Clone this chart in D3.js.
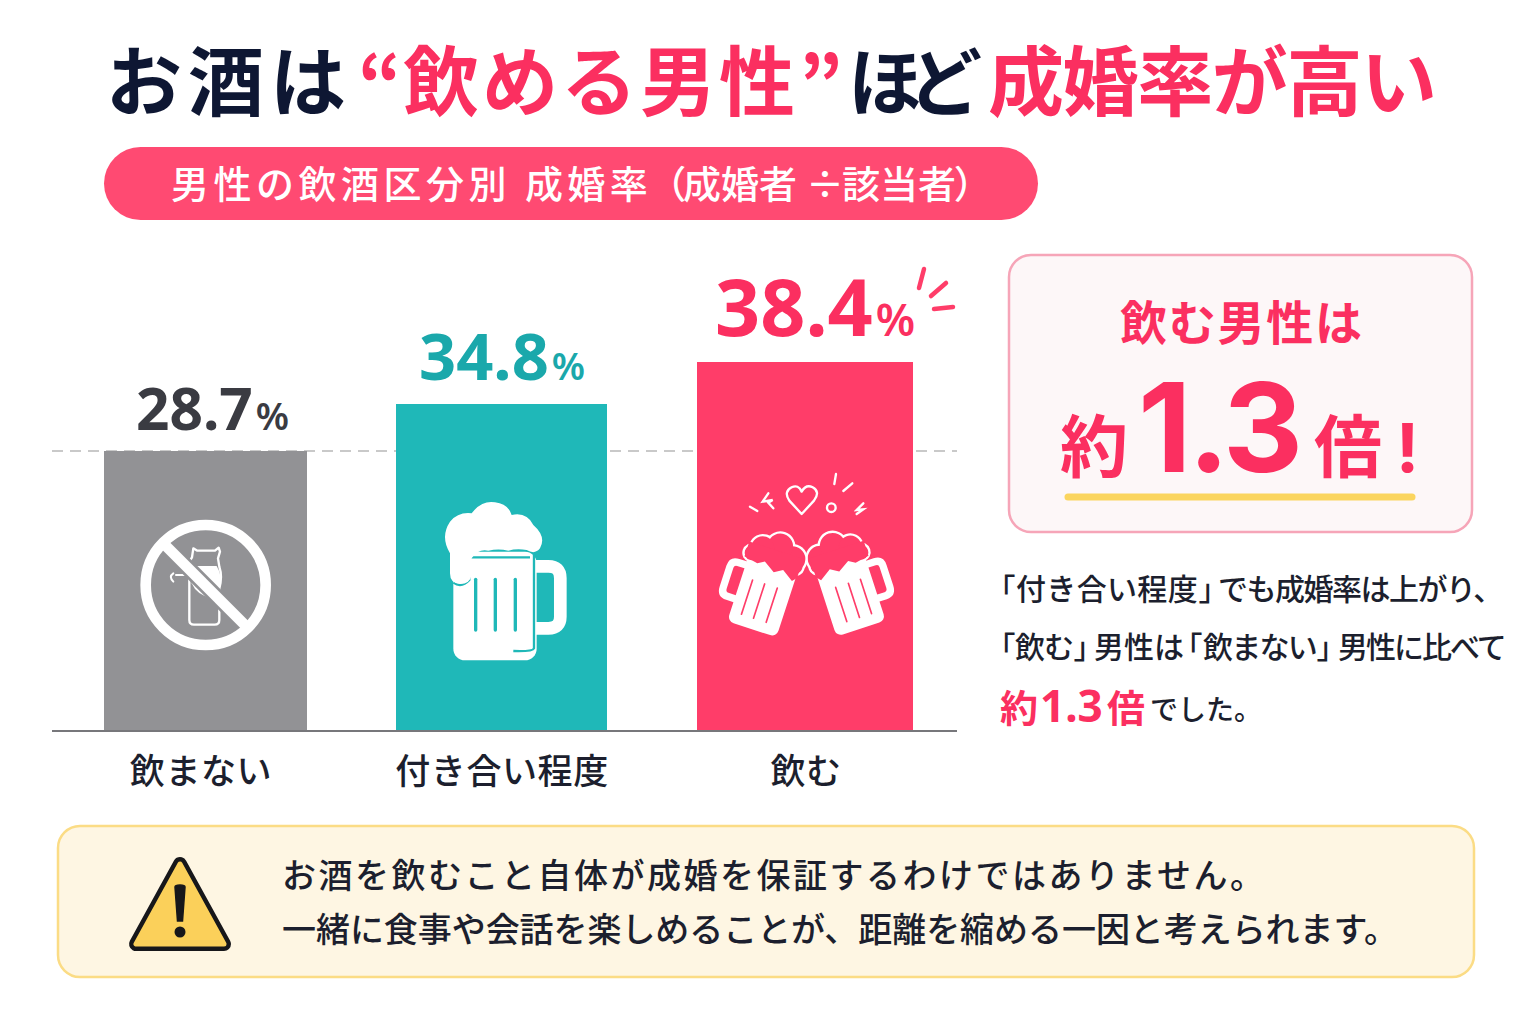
<!DOCTYPE html>
<html lang="ja"><head><meta charset="utf-8">
<script src="https://cdn.jsdelivr.net/npm/d3@7/dist/d3.min.js"></script>
<style>html,body{margin:0;padding:0;background:#fff}svg{display:block}.p{font-feature-settings:"palt"}</style></head>
<body><svg id="c" width="1536" height="1024"></svg>
<script>
const categories = ["飲まない","付き合い程度","飲む"];
const rates = [28.7,34.8,38.4];
const unit = "%";

const NAVY="#0e1733",PINK="#ff3d69",PINKT="#fb2f60",TEAL="#1fb8b8",TEALT="#1aa8ab",GRAY="#929295",DARK="#3a3b42",INK="#1c1f2e";
const JP="'Noto Sans CJK JP','Noto Sans',sans-serif", NUM="'Noto Sans','Noto Sans CJK JP',sans-serif";
const svg=d3.select("#c");
svg.append("rect").attr("width",1536).attr("height",1024).attr("fill","#fff");

function T(str,x,y,size,fill,weight,len,family,anchor){
  const t=svg.append("text").attr("x",x).attr("y",y).attr("font-size",size).attr("fill",fill)
    .attr("font-weight",weight||400).attr("font-family",family||JP).text(str);
  if(len){t.attr("textLength",len).attr("lengthAdjust","spacing");}
  if(anchor)t.attr("text-anchor",anchor);
  return t;
}
// one text line made of runs: [string, x, width of the run]; a run without a width uses proportional glyphs
function R(y,size,fill,weight,runs){
  const t=svg.append("text").attr("y",y).attr("font-size",size).attr("fill",fill)
    .attr("font-weight",weight).attr("font-family",JP);
  runs.forEach(([s,x,len])=>{
    const sp=t.append("tspan").attr("x",x).text(s);
    if(len)sp.attr("letter-spacing",(len-[...s].length*size)/[...s].length);
    else sp.attr("class","p");
  });
}
// title
T("お酒は",106,110,76,NAVY,700,240);
T("“",358,112,76,PINKT,700);
T("飲める男性",403,110,76,PINKT,700,392);
T("”",799,112,76,PINKT,700);
T("ほど",848,110,74,NAVY,700,134);
T("成婚率が高い",988,110,76,PINKT,700,449);

// pill
svg.append("rect").attr("x",104).attr("y",147).attr("width",934).attr("height",73).attr("rx",36.5).attr("fill","#ff4a72");
R(198,38,"#fff",500,[["男性の飲酒区分別",171,340],["成婚率",525,127],["（",666],["成婚者",683,114],["÷",806],["該当者",842,114],["）",955]]);

// chart scales
const y=d3.scaleLinear().domain([0,rates[0],rates[1],rates[2]]).range([731,451,404,362]);
const xL=d3.scaleOrdinal().domain(categories).range([104,396,697]);
const xW=d3.scaleOrdinal().domain(categories).range([203,211,216]);
const col=d3.scaleOrdinal().domain(categories).range([GRAY,TEAL,PINK]);
const txtCol=d3.scaleOrdinal().domain(categories).range([DARK,TEALT,PINKT]);
const numSize=d3.scaleOrdinal().domain(categories).range([58.5,65,79]);
const pctSize=d3.scaleOrdinal().domain(categories).range([38,38,45]);
const numX=d3.scaleOrdinal().domain(categories).range([136,419,715]);
const labY=d3.scaleOrdinal().domain(categories).range([430,380,336]);
const catX=d3.scaleOrdinal().domain(categories).range([201,502,806]);
const rows=categories.map((c,i)=>({c,v:rates[i]}));

svg.append("line").attr("x1",52).attr("x2",957).attr("y1",y(rates[0])).attr("y2",y(rates[0]))
  .attr("stroke","#c9c9c9").attr("stroke-width",2).attr("stroke-dasharray","11 7");
svg.selectAll("rect.bar").data(rows).join("rect").attr("class","bar")
  .attr("x",d=>xL(d.c)).attr("width",d=>xW(d.c)).attr("y",d=>y(d.v)).attr("height",d=>y(0)-y(d.v)).attr("fill",d=>col(d.c));
svg.append("line").attr("x1",52).attr("x2",957).attr("y1",y(0)).attr("y2",y(0)).attr("stroke","#77777b").attr("stroke-width",2);

const lab=svg.selectAll("text.val").data(rows).join("text").attr("class","val")
  .attr("x",d=>numX(d.c)).attr("y",d=>labY(d.c)).attr("fill",d=>txtCol(d.c))
  .attr("font-family",NUM).attr("font-weight",700);
lab.append("tspan").attr("font-size",d=>numSize(d.c)).text(d=>d.v.toFixed(1));
lab.append("tspan").attr("font-size",d=>pctSize(d.c)).attr("font-weight",600).attr("dx",3).text(unit);

svg.selectAll("text.cat").data(rows).join("text").attr("class","cat")
  .attr("x",d=>catX(d.c)).attr("y",784).attr("text-anchor","middle").attr("fill",INK)
  .attr("font-family",JP).attr("font-weight",500).attr("font-size",35).attr("letter-spacing",.6).text(d=>d.c);

// sparks
svg.append("g").attr("stroke",PINK).attr("stroke-width",4.5).attr("stroke-linecap","round")
  .selectAll("path").data(["M924,269L919,288","M946,283L931,296","M934,309L953,307"]).join("path").attr("d",d=>d);

// no-drink icon
const g1=svg.append("g").attr("transform","translate(100,480) scale(.3333)").attr("fill","none").attr("stroke","#fff");
g1.append("path").attr("stroke-width",7).attr("stroke-linejoin","round")
  .attr("d","M280,205L292,212H345L356,203L360,215L354,235L358,260Q368,290 358,325V420Q358,434 344,434H282Q268,434 268,420V245L276,232Z");
g1.append("path").attr("stroke-width",6).attr("stroke-linecap","round").attr("d","M258,285H228M220,280Q205,290 220,305");
g1.append("path").attr("fill","#fff").attr("stroke","none").attr("d","M275,258H350Q370,290 358,325L335,355Q290,345 275,310Z");
g1.append("line").attr("x1",195).attr("y1",195).attr("x2",440).attr("y2",440).attr("stroke",GRAY).attr("stroke-width",48);
g1.append("line").attr("x1",195).attr("y1",195).attr("x2",440).attr("y2",440).attr("stroke-width",32);
g1.append("circle").attr("cx",317).attr("cy",315).attr("r",180).attr("stroke-width",32);

// beer icon
const g2=svg.append("g").attr("transform","translate(420,480) scale(.3333)");
g2.append("path").attr("fill","none").attr("stroke","#fff").attr("stroke-width",38)
  .attr("d","M340,259H385Q421,259 421,295V410Q421,445 385,445H340");
g2.append("rect").attr("x",100).attr("y",215).attr("width",250).attr("height",326).attr("rx",35).attr("fill","#fff");
g2.append("g").attr("stroke",TEAL).attr("stroke-width",10).attr("stroke-linecap","round").selectAll("line")
  .data([167,226,286]).join("line").attr("x1",d=>d).attr("x2",d=>d).attr("y1",298).attr("y2",450);
g2.append("path").attr("fill","none").attr("stroke",TEAL).attr("stroke-width",7)
  .attr("d","M100,308Q125,325 148,300V232H330M342,222V505Q338,515 280,513");
g2.append("path").attr("fill","#fff")
  .attr("d","M90,220Q60,170 90,125Q115,95 155,100Q185,60 225,67Q265,72 275,105Q320,95 340,135Q380,170 360,205Q345,225 320,210Q290,205 265,212Q235,205 205,212Q175,205 155,235V285Q150,312 120,312Q90,310 90,280Z");

// cheers icon
function mug(sel){
  sel.append("path").attr("fill","none").attr("stroke","#fff").attr("stroke-width",22)
    .attr("d","M72,-65H100Q120,-65 120,-45V20Q120,42 100,42H72");
  sel.append("rect").attr("x",-78).attr("y",-105).attr("width",155).attr("height",218).attr("rx",20).attr("fill","#fff");
  sel.append("g").attr("stroke",PINK).attr("stroke-width",5).attr("stroke-linecap","round").selectAll("line")
    .data([-35,5,43]).join("line").attr("x1",d=>d).attr("x2",d=>d).attr("y1",-28).attr("y2",80);
  const fo=[[-52,-125,38],[-5,-150,38],[44,-130,34],[70,-105,22],[-68,-105,20]];
  sel.append("g").attr("fill","#fff").selectAll("circle").data(fo).join("circle").attr("cx",d=>d[0]).attr("cy",d=>d[1]).attr("r",d=>d[2]+7);
  sel.append("g").attr("fill",PINK).selectAll("circle").data(fo).join("circle").attr("cx",d=>d[0]).attr("cy",d=>d[1]).attr("r",d=>d[2]);
  sel.append("path").attr("fill",PINK).attr("d","M-82,-135H88V-88L45,-80L25,-92L-10,-70L-35,-85L-70,-62L-82,-75Z");
}
const g3=svg.append("g").attr("transform","translate(700,460) scale(.3333)");
mug(g3.append("g").attr("transform","translate(449,398) rotate(-18)"));
mug(g3.append("g").attr("transform","translate(190,400) scale(-1,1) rotate(-18)"));
g3.append("path").attr("fill","none").attr("stroke","#fff").attr("stroke-width",7).attr("stroke-linejoin","round")
  .attr("d","M305,162L268,122Q250,95 275,82Q295,72 305,95Q318,72 338,82Q362,95 342,122Z");
g3.append("circle").attr("cx",394).attr("cy",143).attr("r",13).attr("fill","none").attr("stroke","#fff").attr("stroke-width",7);
g3.append("g").attr("stroke","#fff").attr("stroke-width",7).attr("stroke-linecap","round").selectAll("path")
  .data(["M150,140L172,153","M408,42L403,72","M457,70L430,93","M205,100L188,125L218,120L205,128L220,145","M490,130L470,150L490,148L470,162"])
  .join("path").attr("fill","none").attr("d",d=>d);

// callout
svg.append("rect").attr("x",1009).attr("y",255).attr("width",463).attr("height",277).attr("rx",22)
  .attr("fill","#fdf7f8").attr("stroke","#f6a5b8").attr("stroke-width",2.5);
T("飲む男性は",1120,340,47,PINKT,700,242);
T("約",1060,472,68,PINKT,700);
T("1.3",1138,472,124,PINKT,700,165,"Inter,'Noto Sans',sans-serif");
T("倍",1314,472,68,PINKT,700);
T("!",1396,472,68,PINKT,700,null,"Inter,'Noto Sans',sans-serif");
svg.append("line").attr("x1",1068).attr("x2",1412).attr("y1",497).attr("y2",497).attr("stroke","#fbd55f").attr("stroke-width",7).attr("stroke-linecap","round");

// note
const N=30;
R(600,N,INK,500,[["「",1000],["付き合い程度",1016,182],["」",1199],["でも成婚率は上がり、",1218,285]]);
R(658,N,INK,500,[["「",1000],["飲む",1015,58],["」",1074],["男性は",1094,90],["「",1187],["飲まない",1203,113],["」",1317],["男性に比べて",1338,168]]);
const N3=svg.append("text").attr("y",722).attr("fill",PINKT).attr("font-weight",700).attr("font-family",JP).attr("font-size",38);
N3.append("tspan").attr("x",1000).text("約");
N3.append("tspan").attr("x",1040).attr("font-size",44).attr("font-family",NUM).text("1.3");
N3.append("tspan").attr("x",1107).text("倍");
T("でした。",1150,720,28,INK,500,112);

// warning box
svg.append("rect").attr("x",58).attr("y",826).attr("width",1416).attr("height",151).attr("rx",22)
  .attr("fill","#fef6e3").attr("stroke","#fbdc85").attr("stroke-width",2.5);
const tri="M180,864L136,944H224Z";
svg.append("path").attr("d",tri).attr("fill","#17171a").attr("stroke","#17171a").attr("stroke-width",14).attr("stroke-linejoin","round");
svg.append("path").attr("d",tri).attr("fill","#fbd05a").attr("stroke","#fbd05a").attr("stroke-width",5).attr("stroke-linejoin","round");
svg.append("path").attr("d","M175,887Q175,885 180,885Q185,885 185,887L182.5,921H177.5Z").attr("fill","#17171a").attr("stroke","#17171a").attr("stroke-width",1.5);
svg.append("circle").attr("cx",180).attr("cy",932).attr("r",5.5).attr("fill","#17171a");
T("お酒を飲むこと自体が成婚を保証するわけではありません。",282,888,34,INK,500,982);
T("一緒に食事や会話を楽しめることが、距離を縮める一因と考えられます。",282,942,34,INK,500,1116);
</script></body></html>
